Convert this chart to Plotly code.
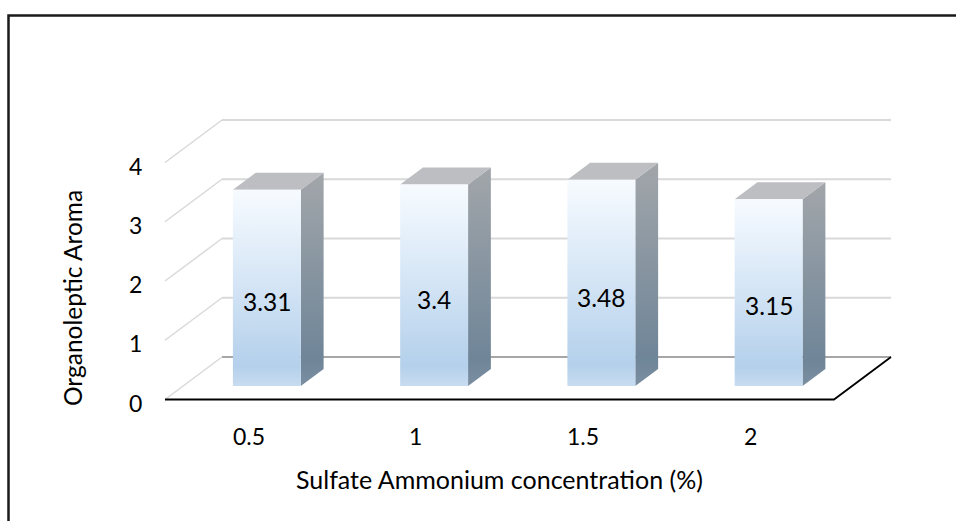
import plotly.graph_objects as go

# ---- data ----
categories = ["0.5", "1", "1.5", "2"]
values = [3.31, 3.4, 3.48, 3.15]
y_ticks = [0, 1, 2, 3, 4]
x_title = "Sulfate Ammonium concentra\u200ction (%)"
y_title = "Organoleptic Aroma"

# ---- geometry (oblique 3D projection in data units) ----
W, H = 956, 521
PX_X = 167.25          # pixels per category slot
PX_Y = 59.25           # pixels per value unit
X0_PX, Y0_PX = 222, 357  # back wall origin in pixels
DX = -57 / PX_X        # depth offset (front) in category units
DY = -42.5 / PX_Y      # depth offset (front) in value units
BAR_W = 0.406
D_BACK, D_FRONT = 0.28, 0.68
n = len(categories)

FONT = "Lato, 'Open Sans', sans-serif"

def P(x, y, d):
    return x + d * DX, y + d * DY

fig = go.Figure()

def line(pts, color, width):
    xs = [p[0] for p in pts]
    ys = [p[1] for p in pts]
    fig.add_trace(go.Scatter(x=xs, y=ys, mode="lines", hoverinfo="skip",
                             line=dict(color=color, width=width), showlegend=False))

# back wall gridlines and left wall diagonals
for v in y_ticks:
    col = "#a6a6a6" if v == 0 else "#d9d9d9"
    line([P(0, v, 0), P(n, v, 0)], col, 1.8)
    line([P(0, v, 0), P(0, v, 1)], "#d9d9d9", 1.5)

# floor front / right edges
line([P(0, 0, 1), P(n, 0, 1), P(n, 0, 0)], "#000000", 1.8)

def poly(pts, **kw):
    xs = [p[0] for p in pts] + [pts[0][0]]
    ys = [p[1] for p in pts] + [pts[0][1]]
    fig.add_trace(go.Scatter(x=xs, y=ys, mode="lines", fill="toself",
                             line=dict(width=0), hoverinfo="skip",
                             showlegend=False, **kw))

front_scale = [[0, "#c8dcf0"], [0.1, "#b4d0eb"], [0.5, "#d3e4f5"], [1, "#f7fbff"]]
side_scale = [[0, "#7b8fa1"], [0.12, "#6f8598"], [1, "#a2a6aa"]]

for i, v in enumerate(values):
    c = i + 0.5
    l, r = c - BAR_W / 2, c + BAR_W / 2
    # side face
    poly([P(r, 0, D_FRONT), P(r, 0, D_BACK), P(r, v, D_BACK), P(r, v, D_FRONT)],
         fillgradient=dict(type="vertical", colorscale=side_scale))
    # top face
    poly([P(l, v, D_FRONT), P(r, v, D_FRONT), P(r, v, D_BACK), P(l, v, D_BACK)],
         fillcolor="#bcbec2")
    # front face
    poly([P(l, 0, D_FRONT), P(r, 0, D_FRONT), P(r, v, D_FRONT), P(l, v, D_FRONT)],
         fillgradient=dict(type="vertical", colorscale=front_scale))

annotations = []
# value labels
for i, v in enumerate(values):
    x, y = P(i + 0.5, v * 0.43, D_FRONT)
    annotations.append(dict(x=x, y=y, text=f"{v:g}", showarrow=False,
                            font=dict(family=FONT, size=24.5, color="#000000"),
                            xanchor="center", yanchor="middle"))
# y tick labels (front plane)
for v in y_ticks:
    x, y = P(0, v, 1)
    annotations.append(dict(x=x, y=y, text=str(v), showarrow=False,
                            font=dict(family=FONT, size=23, color="#000000"),
                            xanchor="right", yanchor="middle", xshift=-21, yshift=-3))
# x tick labels
for i, cat in enumerate(categories):
    x, y = P(i + 0.5, 0, 1)
    annotations.append(dict(x=x, y=y, text=cat, showarrow=False,
                            font=dict(family=FONT, size=23, color="#000000"),
                            xanchor="center", yanchor="middle", yshift=-36))
# axis titles
annotations.append(dict(x=499 / W, y=1 - 479 / H, xref="paper", yref="paper",
                        text=x_title, showarrow=False,
                        font=dict(family=FONT, size=25, color="#000000"),
                        xanchor="center", yanchor="middle"))
annotations.append(dict(x=72 / W, y=1 - 298 / H, xref="paper", yref="paper",
                        text=y_title, showarrow=False, textangle=-90,
                        font=dict(family=FONT, size=24.5, color="#000000"),
                        xanchor="center", yanchor="middle"))

fig.update_layout(
    width=W, height=H, autosize=False,
    margin=dict(l=0, r=0, t=0, b=0),
    paper_bgcolor="white", plot_bgcolor="white",
    xaxis=dict(range=[-X0_PX / PX_X, (W - X0_PX) / PX_X], visible=False, fixedrange=True),
    yaxis=dict(range=[-(H - Y0_PX) / PX_Y, Y0_PX / PX_Y], visible=False, fixedrange=True),
    annotations=annotations,
    shapes=[dict(type="rect", xref="paper", yref="paper",
                 x0=8.5 / W, x1=1.05, y0=-0.05, y1=1 - 15.5 / H,
                 line=dict(color="#1a1a1a", width=2.5))],
    showlegend=False,
)

fig.write_html("out.html", config={"displayModeBar": False},
               post_script="document.body.style.margin='0';")
